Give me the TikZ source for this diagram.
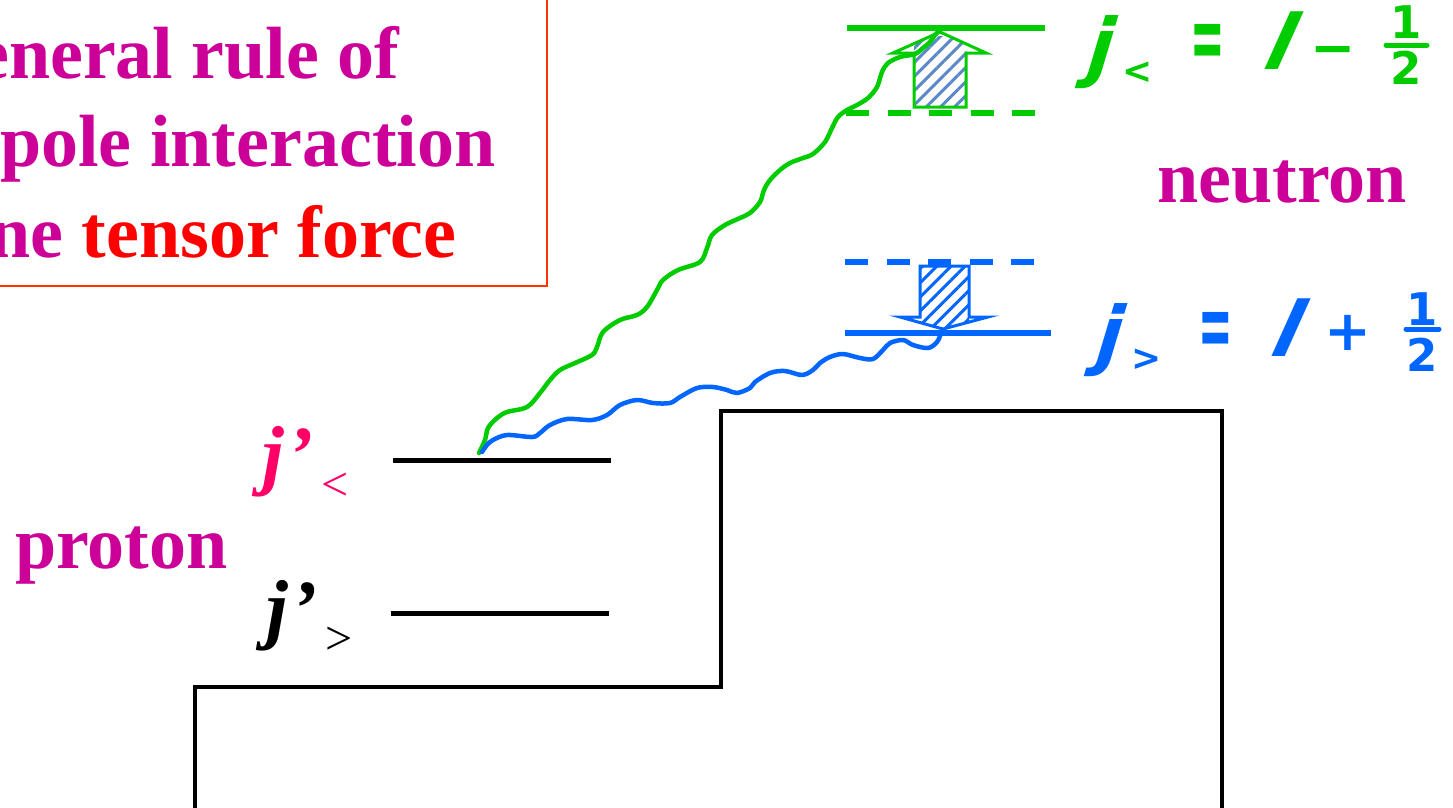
\documentclass[tikz,border=0pt]{standalone}
\usepackage{fontspec}
\setmainfont{Liberation Serif}
\newfontfamily\hwfont{DejaVu Sans}
\usetikzlibrary{patterns.meta}
\definecolor{mag}{HTML}{CC0099}
\definecolor{tred}{HTML}{FF0000}
\definecolor{boxred}{HTML}{FF3300}
\definecolor{pinkj}{HTML}{FF0066}
\definecolor{gr}{HTML}{00CC00}
\definecolor{bl}{HTML}{0066FF}
\definecolor{hatchbl}{HTML}{5A88C8}
\newcommand\fsz[1]{\fontsize{#1}{#1}\selectfont}
\begin{document}
\begin{tikzpicture}[x=1pt,y=-1pt,
  title/.style={anchor=base west, inner sep=0, font={\fsz{74}\bfseries}},
  jlab/.style={anchor=base west, inner sep=0, font={\fsz{78}\bfseries\itshape}},
  jsub/.style={inner sep=0, font={\fsz{48}}},
  hw/.style={inner sep=0, font={\hwfont\bfseries\fsz{#1}}},
  hweq/.style={inner sep=0, xscale=0.75, yscale=1.7, font={\hwfont\bfseries\fsz{55}}},
  level/.style={line width=5pt},
  nlevel/.style={line width=6pt},
  ndash/.style={line width=6pt, dash pattern=on 23pt off 18.5pt},
  wave/.style={line width=4.5pt, line cap=round, line join=round},
  arrowbox/.style={line width=3pt, line join=miter},
  fracbar/.style={line width=5pt, line cap=round}]
\useasboundingbox (0,0) rectangle (1453,807);
\clip (0,0) rectangle (1453,807);

% title box
\draw[boxred, line width=2.5pt] (-10,-10) rectangle (547,286);
\node[title, text=mag] (t1) at (-24,78) {eneral rule of};
\node[title, text=mag] (t2) at (0,166) {pole interaction};
\node[title] (t3) at (-11,257) {\textcolor{mag}{ne} \textcolor{tred}{tensor force}};

% proton / neutron
\node[title, text=mag] (proton) at (15,568) {proton};
\node[title, text=mag] (neutron) at (1157,202) {neutron};

% step outline
\draw[line width=3.5pt] (195,815) -- (195,687) -- (721,687) -- (721,411) -- (1222,411) -- (1222,815);

% proton levels
\coordinate (pa1) at (393,460); \coordinate (pa2) at (611,460);
\coordinate (pb1) at (391,613); \coordinate (pb2) at (609,613);
\draw[level] (pa1) -- (pa2);
\draw[level] (pb1) -- (pb2);
\node[jlab, text=pinkj] (jpl) at (262,480) {j\kern4pt’};
\node[jsub, text=pinkj] (jplsub) at (335,487) {<};
\node[jlab] (jpg) at (266,634) {j\kern4pt’};
\node[jsub] (jpgsub) at (339,641) {>};

% neutron levels
\draw[gr, nlevel] (847,28) -- (1045,28);
\draw[gr, ndash] (846,113) -- (1038,113);
\draw[bl, ndash] (845,262) -- (1039,262);
\draw[bl, nlevel] (845,333) -- (1051,333);

% green up arrow
\fill[white] (914,107) -- (914,53) -- (893,53) -- (940,32) -- (986,53) -- (966,53) -- (966,107) -- cycle;
\begin{scope}
  \clip (914,107) -- (914,53) -- (893,53) -- (940,32) -- (986,53) -- (966,53) -- (966,107) -- cycle;
  \fill[pattern={Lines[angle=45,distance=10pt,line width=3pt]}, pattern color=hatchbl] (914,36) rectangle (966,107);
\end{scope}
\draw[gr, arrowbox] (914,107) -- (914,53) -- (893,53) -- (940,32) -- (986,53) -- (966,53) -- (966,107) -- cycle;

% blue down arrow
\fill[white] (920,266) -- (969,266) -- (969,317) -- (988,317) -- (943,329) -- (900,317) -- (920,317) -- cycle;
\begin{scope}
  \clip (920,266) -- (969,266) -- (969,317) -- (988,317) -- (943,329) -- (900,317) -- (920,317) -- cycle;
  \fill[pattern={Lines[angle=45,distance=10pt,line width=3pt]}, pattern color=bl] (920,266) rectangle (969,329);
\end{scope}
\draw[bl, arrowbox] (920,266) -- (969,266) -- (969,317) -- (988,317) -- (943,329) -- (900,317) -- (920,317) -- cycle;

% wavy lines
\coordinate (gstart) at (479,453);
\coordinate (bstart) at (482,452);
\draw[gr, wave] plot[smooth, tension=0.55] coordinates {(gstart) (485,440) (488,428) (497,418) (507,412) (527,407) (540,393) (550,380) (560,370) (575,363) (592,355) (597,347) (603,332) (620,320) (637,315) (647,307) (657,290) (663,280) (678,270) (700,262) (707,248) (712,235) (725,225) (740,218) (750,213) (760,202) (764,190) (770,180) (780,170) (790,163) (803,158) (813,154) (825,142) (832,128) (838,117) (847,110) (857,105) (868,98) (877,87) (882,72) (888,63) (900,57) (915,54) (923,48) (930,42) (935,35) (939,31)};
\draw[bl, wave] plot[smooth, tension=0.55] coordinates {(bstart) (487,445) (493,440) (507,435) (532,437) (540,433) (550,425) (567,419) (592,420) (607,415) (620,405) (637,400) (653,403) (670,403) (680,397) (697,388) (713,387) (727,390) (737,393) (750,388) (755,382) (770,373) (785,371) (802,375) (813,370) (820,363) (830,357) (843,354) (860,358) (873,359) (883,350) (890,343) (903,340) (913,345) (928,348) (937,342) (941,333)};

% green label j< = l - 1/2
\node[hw=75, text=gr, xslant=0.3] (gj) at (1101,52) {j};
\node[hw=36, text=gr] (glt) at (1138,73) {<};
\node[hweq, text=gr] (geq) at (1208,47) {=};
\node[hw=76, text=gr, xslant=0.45] (gl) at (1284,41) {l};
\node[hw=54, text=gr] (gminus) at (1333,56) {−};
\node[hw=45, text=gr] (gone) at (1406,22) {1};
\node[hw=45, text=gr] (gtwo) at (1406,68) {2};
\draw[gr, fracbar] (1386,45) -- (1427,45);

% blue label j> = l + 1/2
\node[hw=75, text=bl, xslant=0.3] (bj) at (1110,340) {j};
\node[hw=36, text=bl] (bgt) at (1147,360) {>};
\node[hweq, text=bl] (beq) at (1216,335) {=};
\node[hw=76, text=bl, xslant=0.45] (bl) at (1291,328) {l};
\node[hw=56, text=bl] (bplus) at (1348,333) {+};
\node[hw=45, text=bl] (bone) at (1422,309) {1};
\node[hw=45, text=bl] (btwo) at (1422,355) {2};
\draw[bl, fracbar] (1406,329) -- (1439,329);
\end{tikzpicture}
\end{document}
